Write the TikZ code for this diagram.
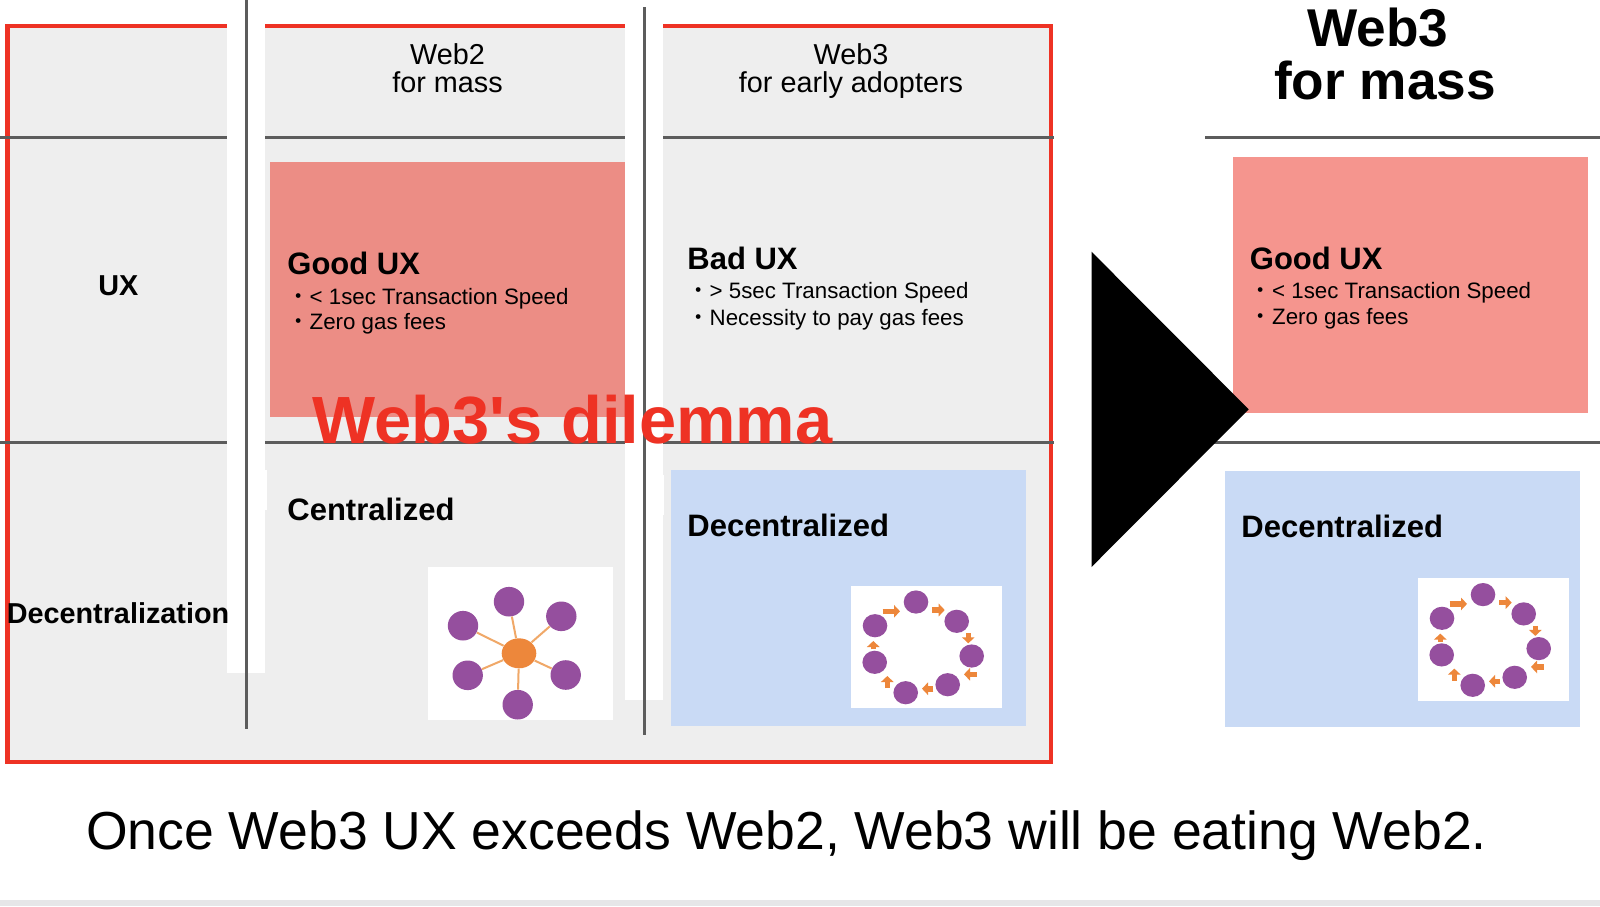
\documentclass[tikz,border=0pt]{standalone}
\usepackage{fontspec}
\setmainfont{Liberation Sans}
\newfontfamily\plainsans{Liberation Sans}
\newfontfamily\cjk{Noto Sans CJK JP}
\usetikzlibrary{shapes.geometric,arrows.meta}

\definecolor{panelgray}{HTML}{EEEEEE}
\definecolor{framered}{HTML}{EE3224}
\definecolor{linegray}{HTML}{5C5C5C}
\definecolor{goodpink}{HTML}{EC8D85}
\definecolor{goodpinkb}{HTML}{F5958E}
\definecolor{deblue}{HTML}{C9DAF5}
\definecolor{dotpurple}{HTML}{954F9E}
\definecolor{hubor}{HTML}{ED873B}
\definecolor{spoke}{HTML}{F0A868}
\definecolor{shadowbar}{HTML}{E6E6E8}

\newcommand{\katadot}{{\cjk ・}}

\begin{document}
\begin{tikzpicture}[x=0.5pt,y=-0.5pt]

  \tikzstyle{rule}=[draw=linegray,line width=1.4pt]
  \tikzstyle{head}=[font=\fontsize{14.4}{14.2}\selectfont,align=center,inner sep=0pt]
  \tikzstyle{rowlabel}=[font=\fontsize{14.4}{17}\selectfont\bfseries,anchor=base,inner sep=0pt]
  \tikzstyle{boxtitle}=[font=\fontsize{15.5}{18}\selectfont\bfseries,anchor=base west,inner sep=0pt]
  \tikzstyle{boxline}=[font=\fontsize{11.15}{13}\selectfont,anchor=base west,inner sep=0pt]
  \tikzstyle{bigdot}=[ellipse,fill=dotpurple,inner sep=0pt,minimum width=15.2pt,minimum height=14.8pt]
  \tikzstyle{ringdot}=[ellipse,fill=dotpurple,inner sep=0pt,minimum width=12.3pt,minimum height=11.6pt]
  \tikzstyle{ringarrow}=[draw=hubor,line width=2.8pt,-{Triangle[length=3pt,width=6.2pt,fill=hubor]}]

  \useasboundingbox (0,0) rectangle (1600,906);

  % left table
  \fill[panelgray] (7.5,26) rectangle (1051,762);
  \draw[framered,line width=2.1pt] (7.5,26) rectangle (1051,762);
  \fill[goodpink] (270,162) rectangle (625,417);
  \fill[deblue] (671,470) rectangle (1025.5,725.5);

  \draw[rule] (0,137.3) -- (1054,137.3);
  \draw[rule] (0,442.5) -- (1054,442.5);

  \fill[white] (227,24) rectangle (265,673);
  \fill[white] (265,470) rectangle (267,510);
  \fill[white] (625,24) rectangle (662.5,700);
  \fill[white] (662.5,475) rectangle (664,515);

  \draw[rule] (246.3,0) -- (246.3,729);
  \draw[rule] (644.3,7) -- (644.3,735);

  % right column
  \fill[goodpinkb] (1233,157) rectangle (1587.5,412.7);
  \fill[deblue] (1224.5,471.4) rectangle (1579.6,726.5);
  \draw[rule] (1205,137.3) -- (1600,137.3);
  \draw[rule] (1205,442.3) -- (1600,442.3);

  \fill[black] (1091.5,251.7) -- (1248.7,409.3) -- (1091.5,567) -- cycle;

  \node[head] (web2) at (447.5,68) {Web2\\for mass};
  \node[head] (web3) at (851,71) {Web3\\for early adopters};
  \node[font=\fontsize{26.6}{26.5}\selectfont\bfseries,align=center,inner sep=0pt] (web3mass) at (1385,54) {Web3\hspace*{7pt}\\for mass};

  \node[rowlabel] (ux) at (118.3,295) {UX};
  \node[rowlabel] (decen) at (118,623) {Decentralization};

  \node[boxtitle] (good1) at (287,274) {Good UX};
  \node[boxline] (good1a) at (287,304) {\katadot< 1sec Transaction Speed};
  \node[boxline] (good1b) at (287,329.3) {\katadot Zero gas fees};

  \node[boxtitle] (bad) at (687,269.3) {Bad UX};
  \node[boxline] (bada) at (687,298.3) {\katadot> 5sec Transaction Speed};
  \node[boxline] (badb) at (687,325) {\katadot Necessity to pay gas fees};

  \node[boxtitle] (good2) at (1249.5,269.3) {Good UX};
  \node[boxline] (good2a) at (1249.5,298.3) {\katadot< 1sec Transaction Speed};
  \node[boxline] (good2b) at (1249.5,324) {\katadot Zero gas fees};

  \node[boxtitle] (cen) at (287,520.5) {Centralized};
  \node[boxtitle] (dec1) at (687,536) {Decentralized};
  \node[boxtitle] (dec2) at (1241,537) {Decentralized};

  % star picture
  \fill[white] (428,567) rectangle (612.5,720);
  \node[ellipse,fill=hubor,inner sep=0pt,minimum width=17.3pt,minimum height=15pt] (hub) at (519,653.3) {};
  \foreach \nm/\x/\y in {s1/509/601.7,s2/561.3/616.3,s3/565.7/675,s4/517.7/704.7,s5/467.7/675.3,s6/463/625.7}{
    \node[bigdot] (\nm) at (\x,\y) {};
    \draw[spoke,line width=1pt] (hub) -- (\nm);
  }

  % ring pictures, same drawing twice
  \foreach \rn/\dx/\dy in {a/0/0,b/567/-7.4}{
    \begin{scope}[shift={(\dx,\dy)}]
      \fill[white] (851.3,585.7) rectangle (1002,708);
      \foreach \nm/\x/\y in {1/916/602,2/956.7/621.3,3/971.7/656,4/947.7/684.7,5/905.7/692.7,6/874.7/662.3,7/875/625.7}{
        \node[ringdot] (\rn dot\nm) at (\x,\y) {};
      }
      \foreach \nm/\xa/\ya/\xb/\yb in {1/882.7/611.3/900/611.3,2/932/610/944.7/610,3/968.3/633.3/968.3/643.3,4/976.7/674.3/964/674.3,5/933.3/688.7/922/688.7,6/887.3/688/887.3/676,7/873.3/649.3/873.3/641}{
        \coordinate (\rn from\nm) at (\xa,\ya);
        \coordinate (\rn to\nm) at (\xb,\yb);
        \draw[ringarrow] (\rn from\nm) -- (\rn to\nm);
      }
    \end{scope}
  }

  \node[font=\plainsans\fontsize{33.4}{36}\selectfont\bfseries,text=framered,anchor=base west,inner sep=0pt] (dilemma) at (312.5,443) {Web3's dilemma};
  \node[font=\fontsize{26.77}{30}\selectfont,anchor=base west,inner sep=0pt] (caption) at (85.7,849) {Once Web3 UX exceeds Web2, Web3 will be eating Web2.};

  \fill[shadowbar] (0,900) rectangle (1600,906);

\end{tikzpicture}
\end{document}
